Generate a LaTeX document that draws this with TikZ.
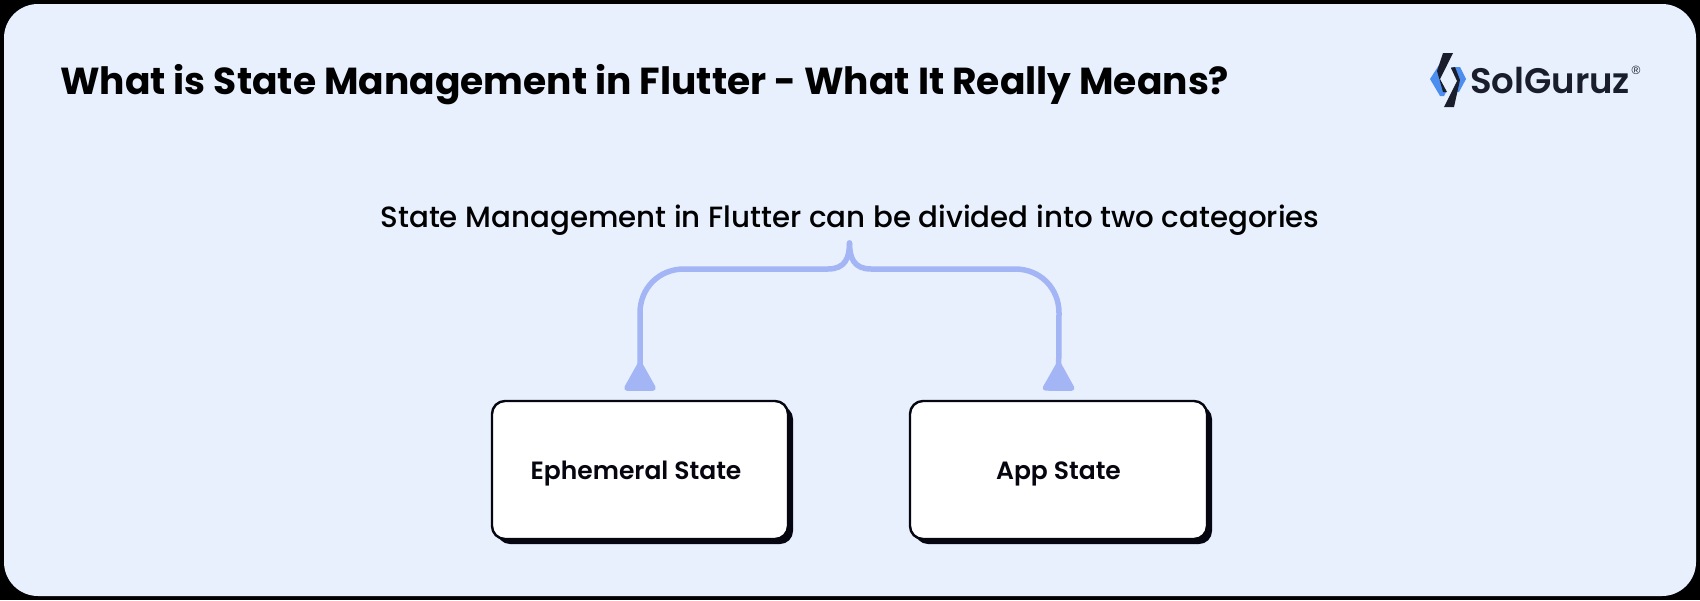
\documentclass[tikz,border=0pt]{standalone}
\usepackage{fontspec}
\setmainfont{Poppins}
\newfontfamily\medfont{Poppins Medium}
\newfontfamily\semifont{Poppins SemiBold}
\newfontfamily\regfont{Liberation Sans}
\usetikzlibrary{arrows.meta}
\definecolor{panelbg}{HTML}{E8F0FE}
\definecolor{inkc}{HTML}{05060F}
\definecolor{linkc}{HTML}{A3B5F5}
\definecolor{logoblue}{HTML}{4C8DF0}
\definecolor{logoink}{HTML}{1A1D2B}
\tikzset{
  catbox/.style={rounded corners=13pt,draw=inkc,line width=2.4pt,fill=white,minimum width=296pt,minimum height=138pt,inner sep=0pt},
  boxshadow/.style={rounded corners=13pt,fill=inkc},
  boxlabel/.style={font=\fontsize{25}{30}\selectfont\semifont,text=inkc,anchor=base,inner sep=0pt},
  link/.style={draw=linkc,line width=5.5pt,{Triangle[reversed,length=32pt,width=34pt,round]}-,shorten <=9pt},
  titletext/.style={font=\fontsize{37.6}{44}\selectfont\bfseries,text=black,anchor=base west,inner sep=0pt},
  subtext/.style={font=\fontsize{29.3}{34}\selectfont\medfont,text=black,anchor=base,inner sep=0pt},
}
\begin{document}
\begin{tikzpicture}[x=1pt,y=-1pt]
\useasboundingbox (0,0) rectangle (1700,600);
\fill[black] (0,0) rectangle (1700,600);
\fill[panelbg,rounded corners=34pt] (4,4) rectangle (1696,596);
\node[titletext] (title) at (60,94) {What is State Management in Flutter - What It Really Means?};
\node[subtext] (sub) at (850,227) {State Management in Flutter can be divided into two categories};
% boxes
\fill[boxshadow] (497,406) rectangle (793,544);
\fill[boxshadow] (915,406) rectangle (1212,544);
\node[catbox] (eph) at (640,470) {};
\node[catbox,minimum width=297pt] (app) at (1058.5,470) {};
\node[boxlabel] (ephlabel) at (636,479) {Ephemeral State};
\node[boxlabel] (applabel) at (1058.5,479) {App State};
\coordinate (cusp) at (849.5,243);
\draw[link,line cap=round] (eph.north) -- (640,313) .. controls (640,288) and (659,269) .. (684,269) -- (828,269) .. controls (845,269) and (849.5,258) .. (cusp);
\draw[link,line cap=round] (app.north) -- (1059,313) .. controls (1059,288) and (1040,269) .. (1015,269) -- (871,269) .. controls (854,269) and (849.5,258) .. (cusp);
% logo
\fill[logoblue] (1430,79) -- (1439,65) -- (1447,65) -- (1443,72) -- (1439,79) -- (1446,92) -- (1444,96) -- (1440,96) -- cycle;
\fill[logoblue] (1466,79) -- (1460,67) -- (1451,67) -- (1455,75) -- (1459,80) -- (1453,92) -- (1459,92) -- cycle;
\fill[logoink] (1443,53) -- (1453,53) -- (1440,79) -- (1447,92) -- (1443,92) -- (1437,71) -- cycle;
\fill[logoink] (1454,107) -- (1444,107) -- (1457,81) -- (1451,68) -- (1455,67) -- (1460,80) -- cycle;
\node[font=\fontsize{35.5}{36}\selectfont\semifont,text=logoink,anchor=base west,inner sep=0pt] (logo) at (1470,93) {SolGuruz};
\node[font=\fontsize{12}{12}\selectfont\regfont,text=logoink,inner sep=0pt] (reg) at (1636,70) {®};
\end{tikzpicture}
\end{document}
